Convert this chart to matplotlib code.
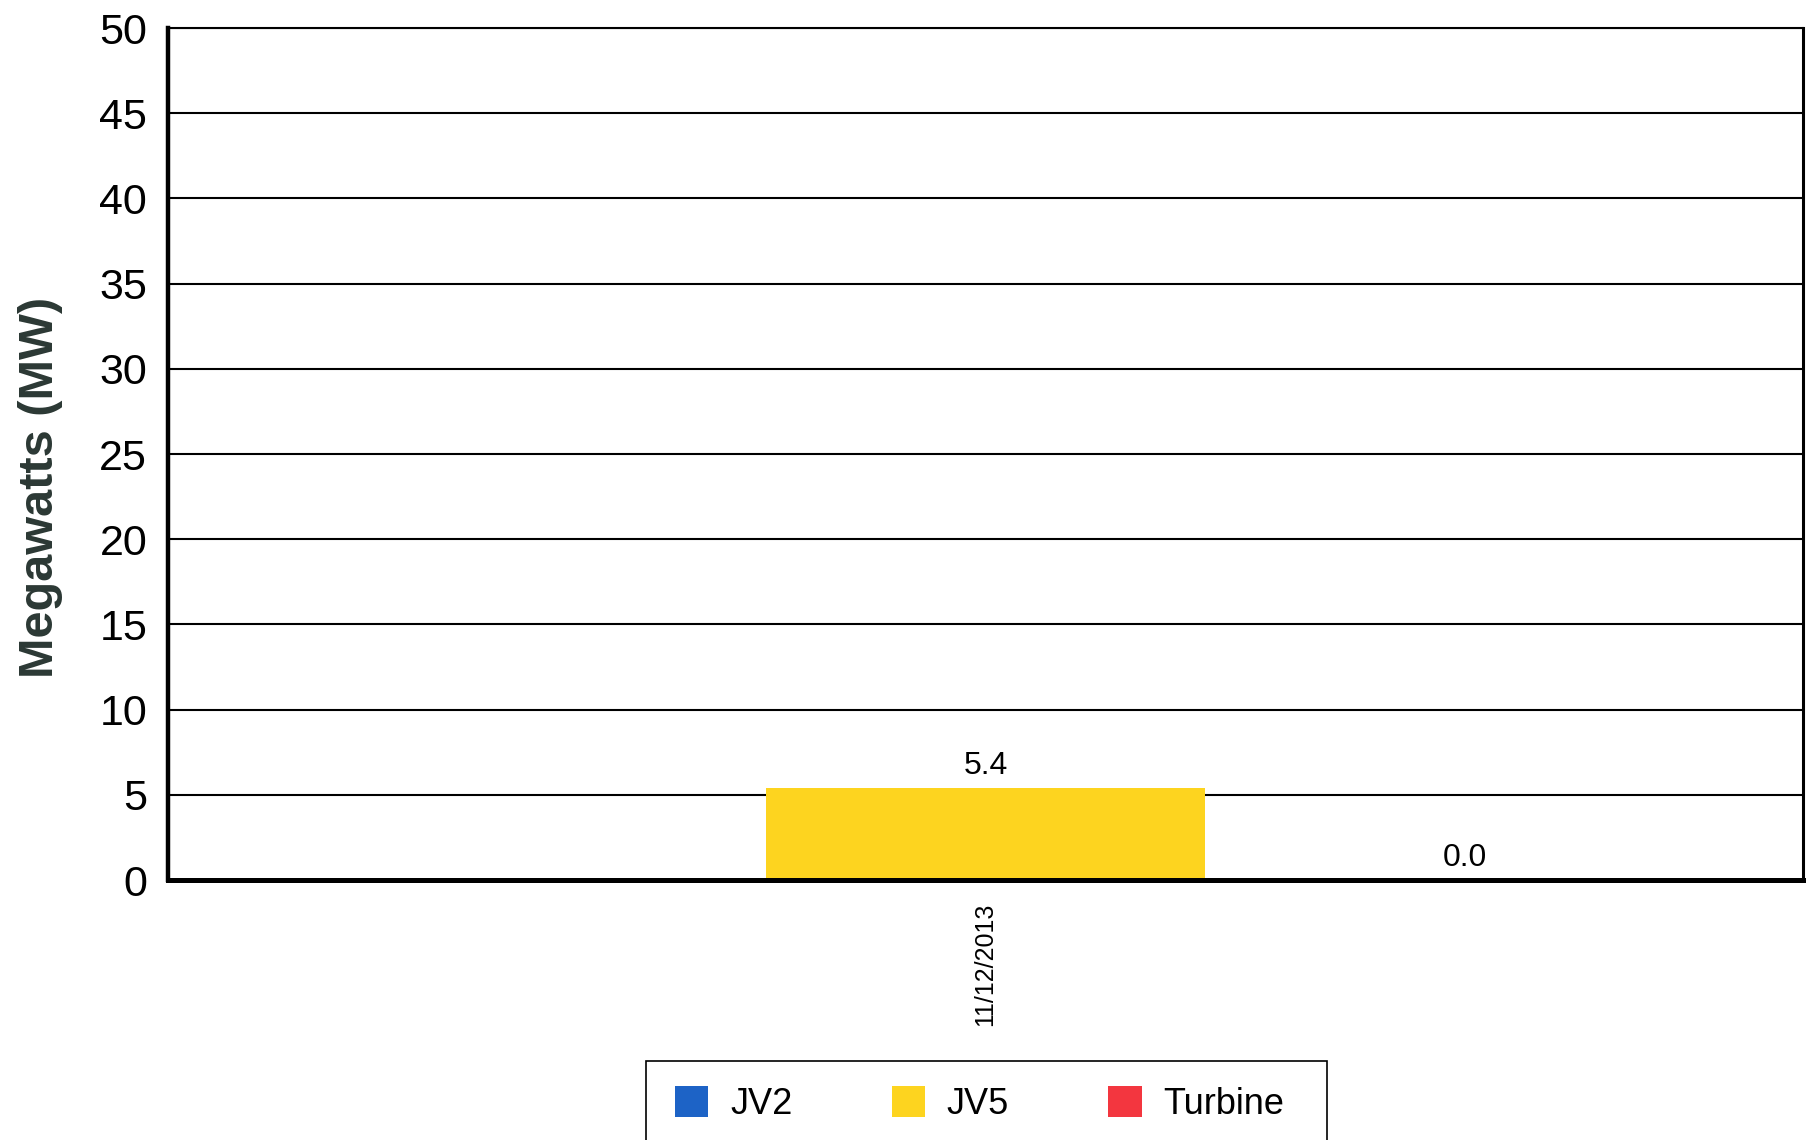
import numpy as np
import matplotlib
matplotlib.use("Agg")
import matplotlib.pyplot as plt
from matplotlib.patches import Rectangle

plt.rcParams['font.family'] = ['Liberation Sans', 'DejaVu Sans']

# ---- data ----
categories = ['11/12/2013']
series_names = ['JV2', 'JV5', 'Turbine']
jv2_values = [np.nan]
jv5_values = [5.4]
turbine_values = [0.0]
series_colors = ['#1d63c6', '#fdd41f', '#f3363f']
y_ticks = [0, 5, 10, 15, 20, 25, 30, 35, 40, 45, 50]

fig = plt.figure(figsize=(18.08, 11.40), dpi=100)
ax = fig.add_axes([168/1808, 1 - 880/1140, (1803 - 168)/1808, (880 - 28)/1140])

x = np.arange(len(categories))
width = 1.0
all_vals = [jv2_values, jv5_values, turbine_values]
offsets = [-1, 0, 1]
label_dx = [0, 0, 29]  # points; label shift seen in the original
for name, vals, off, col, dx in zip(series_names, all_vals, offsets, series_colors, label_dx):
    v = np.array(vals, dtype=float)
    xs = x + off * width
    ax.bar(xs, np.nan_to_num(v), width=width, color=col,
           label=name, linewidth=0, zorder=3)
    for xi, d in zip(xs, v):
        if np.isnan(d):
            continue
        ax.annotate(f'{d:.1f}', (xi, d), xytext=(dx, 5), textcoords='offset points',
                    ha='center', va='bottom', fontsize=23, color='black')

ax.set_xlim(-1.862, 1.862)
ax.set_ylim(0, 50)
ax.set_yticks(y_ticks)
ax.set_yticklabels([str(t) for t in y_ticks], fontsize=31)
ax.set_xticks(x)
ax.set_xticklabels(categories, rotation=90, fontsize=18)
ax.tick_params(axis='y', length=0, pad=15)
ax.tick_params(axis='x', length=0, pad=16)

ax.yaxis.grid(True, color='black', linewidth=1.5, zorder=1)
ax.set_axisbelow(True)

for side, lw in [('left', 3.2), ('bottom', 3.6), ('top', 1.5), ('right', 2.2)]:
    ax.spines[side].set_linewidth(lw)
    ax.spines[side].set_color('black')
    ax.spines[side].set_zorder(4)

ax.set_ylabel('Megawatts (MW)', fontsize=35, fontweight='bold', color='#2b3834', va='center')
ax.yaxis.set_label_coords((40 - 168) / 1635, (880 - 487) / 852)

# legend box
fig.patches.append(Rectangle((646/1808, -0.05), (1327 - 646)/1808, (1140 - 1061)/1140 + 0.05,
                             transform=fig.transFigure, facecolor='white',
                             edgecolor='black', linewidth=1.2, zorder=0))
leg = fig.legend(loc='upper left', bbox_to_anchor=(650/1808, 1 - 1061/1140),
                 ncol=3, fontsize=26, frameon=False,
                 handlelength=0.92, handleheight=0.92, handletextpad=0.6,
                 columnspacing=2.75, borderpad=0.7, borderaxespad=0)

fig.savefig('out.png', dpi=100)
